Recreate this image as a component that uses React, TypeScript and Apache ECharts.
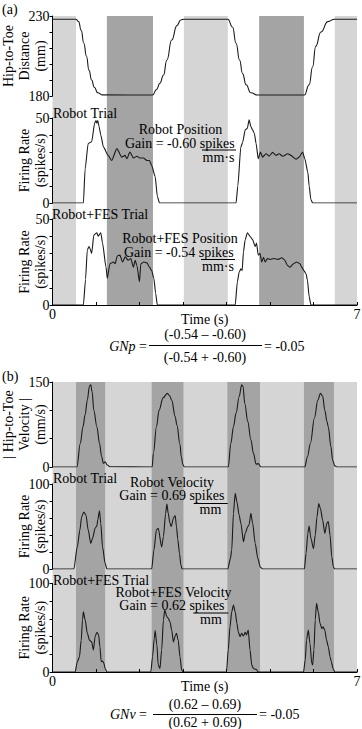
import React, { useEffect, useRef } from "react";
import * as echarts from "echarts";

const FONT = "Liberation Serif";

// ---- shading bands (seconds) ----
const bandsALight: [number, number][] = [[0, 0.54], [3.02, 4.03], [6.49, 7]];
const bandsADark: [number, number][] = [[1.25, 2.31], [4.75, 5.78]];
const bandsBLight: [number, number][] = [[0, 7]];
const bandsBDark: [number, number][] = [[0.54, 1.21], [2.28, 3.01], [4.02, 4.77], [5.78, 6.47]];

// ---- panel (a) traces: [time s, value] ----
const hipToeDistance: [number, number][] = [
  [0, 228], [0.54, 228], [0.6, 226.5], [0.66, 221], [0.72, 213], [0.78, 205], [0.84, 196], [0.9, 190],
  [0.96, 185.5], [1.04, 182], [1.15, 180.7], [2.3, 180.6], [2.39, 184], [2.47, 188], [2.55, 193],
  [2.63, 202.5], [2.74, 215], [2.86, 224], [2.95, 227.5], [3.02, 228], [4.03, 228], [4.14, 223],
  [4.22, 213], [4.3, 202.5], [4.37, 194], [4.45, 187], [4.56, 182], [4.72, 180.6], [5.79, 180.6],
  [5.9, 187], [5.98, 198.3], [6.05, 211], [6.17, 220], [6.33, 226.5], [6.48, 228], [7, 228],
];
const robotRateA: [number, number][] = [
  [0, 0], [0.71, 0], [0.75, 20], [0.82, 35], [0.9, 36], [0.97, 47], [1.0, 48.5], [1.02, 47],
  [1.04, 48.5], [1.07, 45], [1.11, 40], [1.17, 33], [1.28, 28], [1.36, 25], [1.48, 32], [1.59, 27],
  [1.67, 28], [1.71, 26], [1.78, 30], [1.86, 26.5], [1.94, 27.5], [2.01, 26.5], [2.09, 26.5],
  [2.17, 25], [2.23, 25], [2.28, 22], [2.36, 15.5], [2.41, 4], [2.46, 0], [4.22, 0], [4.26, 10],
  [4.33, 33], [4.37, 35.5], [4.43, 43], [4.48, 44], [4.52, 49], [4.56, 45], [4.6, 43], [4.64, 41],
  [4.68, 35], [4.73, 26], [4.78, 30], [4.83, 27], [4.91, 29], [4.98, 27.6], [5.06, 29.8], [5.14, 28],
  [5.21, 29], [5.29, 27.5], [5.41, 29], [5.48, 28], [5.6, 25.7], [5.67, 27], [5.75, 30], [5.8, 26],
  [5.87, 18], [5.9, 10], [5.94, 2], [5.98, 0], [7, 0],
];
const fesRateA: [number, number][] = [
  [0, 0], [0.71, 0], [0.76, 15], [0.8, 32], [0.84, 34], [0.86, 33], [0.9, 30], [0.95, 40.7],
  [1.02, 42], [1.05, 40], [1.11, 42], [1.15, 36], [1.23, 22], [1.26, 15.5], [1.32, 24], [1.4, 25],
  [1.44, 24], [1.49, 28.5], [1.55, 29], [1.61, 25], [1.67, 28], [1.74, 26], [1.8, 27], [1.86, 22],
  [1.9, 26], [1.94, 23], [2.0, 13.5], [2.03, 24], [2.1, 25], [2.17, 24.5], [2.23, 22], [2.28, 20],
  [2.33, 15.5], [2.37, 7], [2.41, 0], [4.2, 0], [4.25, 13.5], [4.29, 19], [4.33, 21], [4.36, 20],
  [4.39, 31], [4.43, 38], [4.48, 42], [4.54, 40], [4.6, 38], [4.66, 34], [4.69, 36], [4.73, 29],
  [4.77, 30], [4.81, 25], [4.85, 27.7], [4.89, 25], [4.94, 27], [5.0, 26.5], [5.09, 27], [5.19, 26.5],
  [5.27, 27.5], [5.34, 26], [5.4, 23], [5.46, 22], [5.54, 24], [5.61, 25], [5.69, 24], [5.73, 22],
  [5.78, 20], [5.83, 18], [5.86, 14.5], [5.9, 5], [5.94, 0], [7, 0],
];

// ---- panel (b) traces ----
const hipToeVelocity: [number, number][] = [
  [0, 0], [0.56, 0], [0.64, 42], [0.7, 71], [0.75, 92], [0.8, 118], [0.85, 143], [0.88, 145],
  [0.91, 133], [0.95, 100], [1.02, 71], [1.08, 42], [1.13, 18], [1.17, 6.5], [1.21, 9], [1.26, 3.5],
  [1.32, 0.5], [2.29, 0], [2.32, 24], [2.39, 71], [2.45, 100], [2.54, 122], [2.64, 130], [2.69, 126],
  [2.74, 118], [2.82, 89], [2.86, 74], [2.93, 40], [2.96, 18], [3.0, 4], [3.03, 0], [4.04, 0],
  [4.1, 42], [4.16, 71], [4.22, 95], [4.29, 124], [4.35, 145], [4.38, 142], [4.42, 112], [4.49, 80],
  [4.56, 48], [4.62, 24], [4.68, 5], [4.73, 6], [4.79, 0], [5.8, 0], [5.86, 18], [5.93, 42],
  [6.02, 86], [6.1, 118], [6.16, 130], [6.21, 125], [6.26, 100], [6.31, 80], [6.34, 71], [6.4, 36],
  [6.44, 12], [6.49, 2], [6.54, 0], [7, 0],
];
const robotRateB: [number, number][] = [
  [0, 0], [0.49, 0], [0.57, 26], [0.63, 46], [0.67, 61.5], [0.72, 67], [0.77, 63.5], [0.82, 46],
  [0.88, 30], [0.92, 36], [0.98, 48], [1.02, 50.6], [1.04, 57.6], [1.08, 68.6], [1.11, 53.7],
  [1.15, 26], [1.21, 6.7], [1.25, 0], [2.28, 0], [2.33, 22], [2.39, 46], [2.43, 48], [2.51, 26],
  [2.55, 38], [2.6, 65], [2.63, 76.5], [2.66, 65.5], [2.7, 54], [2.73, 50], [2.78, 60], [2.82, 63],
  [2.85, 50], [2.88, 35], [2.92, 18], [2.95, 5], [2.98, 0], [4.03, 0], [4.09, 12.5], [4.12, 22],
  [4.16, 65.5], [4.2, 89], [4.24, 79], [4.29, 63.5], [4.33, 54], [4.39, 32], [4.43, 42], [4.49, 50],
  [4.52, 52], [4.56, 65.5], [4.6, 54], [4.66, 30], [4.72, 12.5], [4.78, 2], [4.83, 0], [5.79, 0],
  [5.83, 18.5], [5.87, 42], [5.9, 50.6], [5.94, 36], [6.0, 24], [6.04, 40], [6.08, 61.5], [6.12, 77],
  [6.16, 71], [6.21, 57.6], [6.26, 42], [6.31, 54], [6.34, 55.7], [6.38, 40], [6.42, 14.5], [6.46, 2],
  [6.49, 0], [7, 0],
];
const fesRateB: [number, number][] = [
  [0, 0], [0.52, 0], [0.57, 11.6], [0.62, 17.3], [0.66, 36], [0.69, 59], [0.71, 68], [0.75, 59],
  [0.8, 44], [0.85, 36], [0.9, 34], [0.94, 25], [0.98, 40], [1.02, 45], [1.06, 42], [1.09, 28.6],
  [1.12, 11.6], [1.15, 12.4], [1.18, 10], [1.21, 4], [1.25, 0], [2.26, 0], [2.3, 17.3], [2.34, 38],
  [2.36, 46.7], [2.4, 30.5], [2.43, 8], [2.47, 4], [2.51, 25], [2.55, 59], [2.58, 70], [2.63, 62.5],
  [2.66, 60.7], [2.7, 56.8], [2.74, 47.5], [2.78, 34], [2.82, 40.7], [2.85, 43.7], [2.89, 36],
  [2.93, 17.3], [2.97, 2], [3.01, 0], [4.0, 0], [4.04, 25], [4.08, 51], [4.12, 68], [4.16, 75.7],
  [4.2, 68], [4.24, 55], [4.27, 45.5], [4.31, 40], [4.35, 43.7], [4.39, 40.7], [4.43, 45], [4.46, 42],
  [4.5, 47.5], [4.54, 25], [4.58, 8], [4.62, 4], [4.68, 3], [4.73, 0], [5.77, 0], [5.81, 13.5],
  [5.84, 36], [5.88, 47.5], [5.92, 32], [5.96, 10], [5.98, 8], [6.01, 25], [6.04, 59], [6.07, 77.6],
  [6.11, 68], [6.15, 55], [6.19, 49], [6.22, 51], [6.26, 47.5], [6.3, 36], [6.34, 28.6], [6.38, 17.3],
  [6.41, 11.6], [6.45, 4], [6.49, 0], [7, 0],
];

const LIGHT = "#d5d5d5";
const DARK = "#a4a4a4";

const txt = (x: number, y: number, text: string, align = "left", size = 14, extra: any = {}) => ({
  type: "text",
  x,
  y,
  z: 10,
  style: {
    text,
    fontFamily: FONT,
    fontSize: size,
    fill: "#000",
    textAlign: align,
    textVerticalAlign: "middle",
    ...extra,
  },
});
const hline = (x1: number, x2: number, y: number) => ({
  type: "line",
  z: 10,
  shape: { x1, y1: y, x2, y2: y },
  style: { stroke: "#000", lineWidth: 1 },
});

export default function App() {
  const ref = useRef<HTMLDivElement>(null);
  useEffect(() => {
    if (!ref.current) return;
    const chart = echarts.init(ref.current, undefined, { renderer: "svg" });

    const L = 52.5;
    const R = 5;
    const grids = [
      { top: 16, height: 289 }, // 0 bg a
      { top: 16, height: 80 }, // 1 distance
      { top: 118, height: 85 }, // 2 robot a
      { top: 219, height: 86 }, // 3 fes a
      { top: 382, height: 290 }, // 4 bg b
      { top: 382, height: 85 }, // 5 velocity
      { top: 484, height: 85 }, // 6 robot b
      { top: 583.5, height: 88.5 }, // 7 fes b
    ].map((g) => ({ left: L, right: R, ...g, containLabel: false, outerBoundsMode: "none" }));

    const nameStyle = { fontFamily: FONT, fontSize: 14, lineHeight: 16, color: "#000" };
    const yAx = (gridIndex: number, min: number, max: number, interval: number, name: string) => ({
      type: "value",
      gridIndex,
      min,
      max,
      interval,
      z: 5,
      axisLine: { show: true, lineStyle: { color: "#000", width: 1 } },
      axisTick: { show: true, inside: false, length: 3, lineStyle: { color: "#000" } },
      splitLine: { show: false },
      axisLabel: {
        fontFamily: FONT,
        fontSize: 14,
        color: "#000",
        margin: 3,
        formatter: (v: number) => (v === min || v === max ? String(v) : ""),
      },
      name,
      nameLocation: "middle",
      nameRotate: 90,
      nameGap: 4,
      nameMoveOverlap: false,
      nameTextStyle: nameStyle,
    });
    const yHidden = (gridIndex: number) => ({ type: "value", gridIndex, min: 0, max: 1, show: false });
    const xHidden = (gridIndex: number) => ({ type: "value", gridIndex, min: 0, max: 7, show: false });
    const xTime = (gridIndex: number) => ({
      type: "value",
      gridIndex,
      min: 0,
      max: 7,
      interval: 1,
      z: 5,
      axisLine: { show: true, onZero: false, lineStyle: { color: "#000", width: 1 } },
      axisTick: { show: true, inside: true, length: 3, lineStyle: { color: "#000" } },
      splitLine: { show: false },
      axisLabel: {
        fontFamily: FONT,
        fontSize: 14,
        color: "#000",
        margin: 2,
        formatter: (v: number) => (v === 0 || v === 7 ? String(v) : ""),
      },
      name: "Time (s)",
      nameLocation: "middle",
      nameGap: 6,
      nameMoveOverlap: false,
      nameTextStyle: { ...nameStyle, verticalAlign: "top" },
    });

    const bandSeries = (axis: number, bands: [number, number][], color: string) => ({
      type: "line",
      xAxisIndex: axis,
      yAxisIndex: axis,
      data: [[0, 0], [7, 0]],
      symbol: "none",
      silent: true,
      z: 1,
      lineStyle: { opacity: 0, width: 0 },
      markArea: {
        silent: true,
        itemStyle: { color, borderWidth: 0 },
        data: bands.map(([a, b]) => [{ xAxis: a }, { xAxis: b }]),
      },
    });
    const trace = (axis: number, data: [number, number][], smooth: number) => ({
      type: "line",
      xAxisIndex: axis,
      yAxisIndex: axis,
      data,
      symbol: "none",
      smooth,
      smoothMonotone: "x",
      z: 3,
      lineStyle: { color: "#1a1a1a", width: 1.1 },
    });

    const italic = { rich: { i: { fontStyle: "italic", fontFamily: FONT, fontSize: 14 } } };

    chart.setOption({
      animation: false,
      backgroundColor: "#fff",
      textStyle: { fontFamily: FONT },
      grid: grids,
      xAxis: [xHidden(0), xHidden(1), xHidden(2), xTime(3), xHidden(4), xHidden(5), xHidden(6), xTime(7)],
      yAxis: [
        yHidden(0),
        yAx(1, 180, 230, 10, "Hip-to-Toe\nDistance\n(mm)"),
        yAx(2, 0, 50, 10, "Firing Rate\n(spikes/s)"),
        yAx(3, 0, 50, 10, "Firing Rate\n(spikes/s)"),
        yHidden(4),
        yAx(5, 0, 150, 50, "| Hip-to-Toe\nVelocity |\n(mm/s)"),
        yAx(6, 0, 100, 20, "Firing Rate\n(spikes/s)"),
        yAx(7, 0, 100, 20, "Firing Rate\n(spikes/s)"),
      ],
      series: [
        bandSeries(0, bandsALight, LIGHT),
        bandSeries(0, bandsADark, DARK),
        bandSeries(4, bandsBLight, LIGHT),
        bandSeries(4, bandsBDark, DARK),
        trace(1, hipToeDistance, 0.5),
        trace(2, robotRateA, 0.2),
        trace(3, fesRateA, 0.2),
        trace(5, hipToeVelocity, 0.35),
        trace(6, robotRateB, 0.25),
        trace(7, fesRateB, 0.25),
      ],
      graphic: [
        txt(2, 9, "(a)"),
        txt(53, 113, "Robot Trial"),
        txt(180.5, 129, "Robot Position", "center"),
        txt(125, 143, "Gain = -0.60 spikes"),
        hline(202, 236, 150),
        txt(218.5, 157, "mm·s", "center"),
        txt(52, 214, "Robot+FES Trial"),
        txt(180, 238, "Robot+FES Position", "center"),
        txt(124, 252.5, "Gain = -0.54 spikes"),
        hline(201, 235, 259.5),
        txt(218, 266, "mm·s", "center"),
        txt(147, 346, "{i|GNp} =", "right", 14, italic),
        txt(205, 334, "(-0.54 – -0.60)", "center"),
        hline(149, 262, 345.5),
        txt(205, 357, "(-0.54 + -0.60)", "center"),
        txt(264, 346, "= -0.05"),
        txt(2, 376, "(b)"),
        txt(53, 478, "Robot Trial"),
        txt(172, 482, "Robot Velocity", "center"),
        txt(119.3, 495.5, "Gain = 0.69 spikes"),
        hline(193.7, 227.7, 503.5),
        txt(210.5, 509.5, "mm", "center"),
        txt(53, 580, "Robot+FES Trial"),
        txt(173.5, 592, "Robot+FES Velocity", "center"),
        txt(119.3, 605.5, "Gain = 0.62 spikes"),
        hline(193.3, 228.3, 613),
        txt(211, 619.5, "mm", "center"),
        txt(147, 714.5, "{i|GNv} =", "right", 14, italic),
        txt(205, 704, "(0.62 – 0.69)", "center"),
        hline(153, 257, 714.5),
        txt(205, 722.5, "(0.62 + 0.69)", "center"),
        txt(259, 714.5, "= -0.05"),
      ],
    });
    return () => chart.dispose();
  }, []);
  return (
    <div
      ref={ref}
      style={{ position: "absolute", left: 0, top: 0, width: 362, height: 729, background: "#fff" }}
    />
  );
}
